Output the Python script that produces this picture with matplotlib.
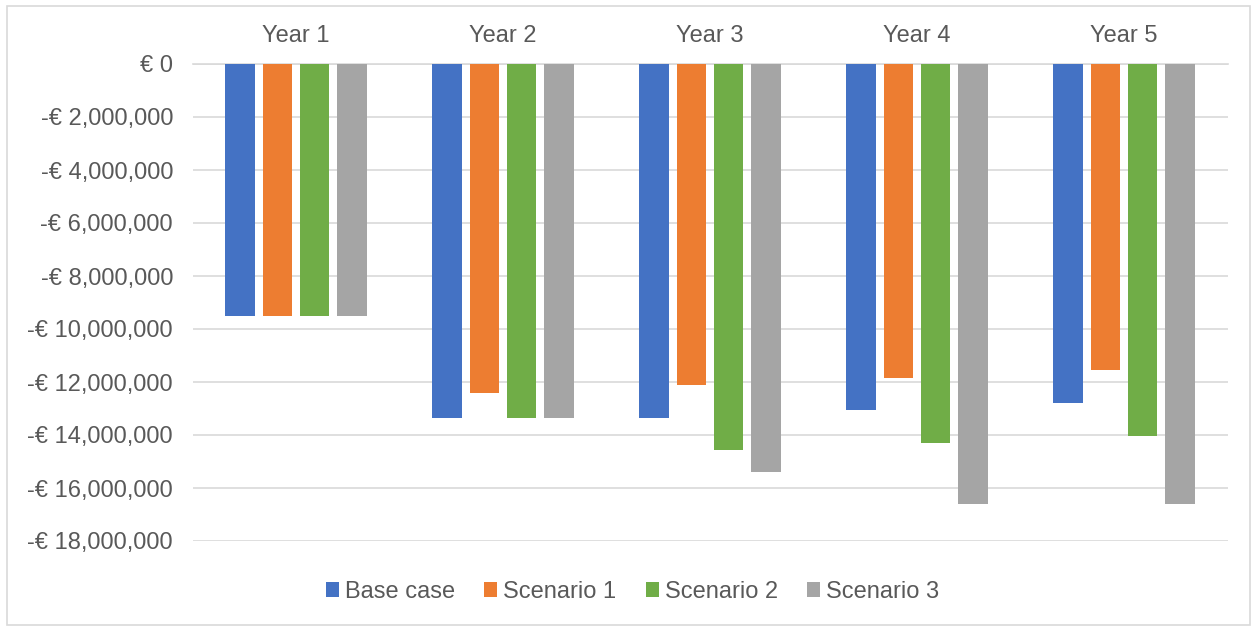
import numpy as np
import matplotlib
matplotlib.use("Agg")
import matplotlib.pyplot as plt
from matplotlib.patches import Rectangle
from matplotlib.ticker import FuncFormatter, MultipleLocator

# cumulative cash position per year, in euro
years = ["Year 1", "Year 2", "Year 3", "Year 4", "Year 5"]
base_case = [-9.50e6, -13.36e6, -13.34e6, -13.06e6, -12.78e6]
scenario_1 = [-9.50e6, -12.40e6, -12.11e6, -11.84e6, -11.55e6]
scenario_2 = [-9.50e6, -13.36e6, -14.56e6, -14.29e6, -14.03e6]
scenario_3 = [-9.50e6, -13.36e6, -15.40e6, -16.60e6, -16.60e6]

series = [
    ("Base case", base_case, "#4472C4"),
    ("Scenario 1", scenario_1, "#ED7D31"),
    ("Scenario 2", scenario_2, "#70AD47"),
    ("Scenario 3", scenario_3, "#A5A5A5"),
]

plt.rcParams["font.family"] = ["Liberation Sans", "DejaVu Sans"]
text_col = "#595959"
grid_col = "#D9D9D9"
fs = 17

W, H = 1253, 626
fig = plt.figure(figsize=(W / 100, H / 100), dpi=100)
ax = fig.add_axes([192.5 / W, 1 - 541 / H, (1227.5 - 192.5) / W, (541 - 64) / H])

x = np.arange(len(years))
width = 0.1425
step = 0.181
for i, (name, vals, col) in enumerate(series):
    ax.bar(x + (i - 1.5) * step, vals, width, color=col, label=name, zorder=3)

ax.set_xlim(-0.5, len(years) - 0.5)
ax.set_ylim(-18e6, 0)
ax.yaxis.set_major_locator(MultipleLocator(2e6))


def euro(v, pos):
    if abs(v) < 1:
        return "€ 0"
    sign = "-" if v < 0 else ""
    return f"{sign}€ {abs(v):,.0f}"


ax.yaxis.set_major_formatter(FuncFormatter(euro))
ax.grid(axis="y", color=grid_col, linewidth=1.2, zorder=0)
ax.set_axisbelow(True)

for s in ["left", "right", "bottom"]:
    ax.spines[s].set_visible(False)
ax.spines["top"].set_color(grid_col)
ax.spines["top"].set_linewidth(1.2)

ax.xaxis.set_ticks_position("top")
ax.set_xticks(x)
ax.set_xticklabels(years)
ax.tick_params(axis="x", length=0, pad=12, labelsize=fs, labelcolor=text_col)
ax.tick_params(axis="y", length=0, pad=14, labelsize=fs, labelcolor=text_col)

fig.legend(
    loc="center", bbox_to_anchor=(0.5 + 6 / W, 1 - 592 / H), ncol=4, frameon=False,
    fontsize=fs, handlelength=0.55, handleheight=0.6, handletextpad=0.25,
    columnspacing=1.25, labelcolor=text_col,
)

# light outline around the chart area
fig.patches.append(Rectangle((7 / W, 1 - 625 / H), (1250 - 7) / W, (625 - 6) / H,
                             transform=fig.transFigure, fill=False,
                             edgecolor=grid_col, linewidth=1.2))

fig.savefig("out.png", dpi=100)
